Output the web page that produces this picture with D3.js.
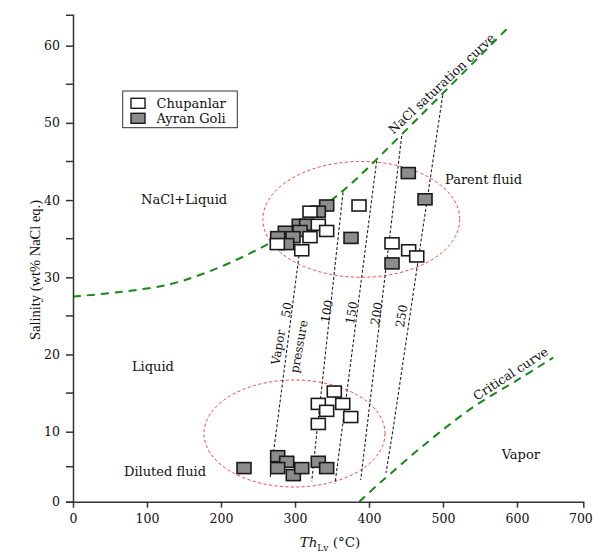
<!DOCTYPE html>
<html><head><meta charset="utf-8">
<script src="https://cdn.jsdelivr.net/npm/d3@7/dist/d3.min.js"></script>
<style>body{margin:0;background:#fff}svg{display:block}</style>
</head><body>
<svg id="chart" width="593" height="552"></svg>
<script>
// ---- data ----
const xTicks = [0,100,200,300,400,500,600,700];
const yTicks = [0,10,20,30,40,50,60];
const yMinorTicks = [5,15,25,35,45,55];

const seriesNames = ["Chupanlar","Ayran Goli"];
const chupanlarTh  = [320.3,386.5,331.5,342.8,320.3,276.1,309.1,431.1,453.6,464.5, 353.1,331.5,364.5,342.8,375.3,331.5];
const chupanlarSal = [38.5,39.3,36.8,36.0,35.2,34.3,33.5,34.4,33.5,32.7, 15.2,13.6,13.6,12.7,11.9,11.0];
const ayranTh  = [342.8,331.5,305.8,315.8,306.8,286.9,297.3,276.6,288.8,375.7,431.1,475.7,453.1, 276.6,288.8,276.6,231.1,297.7,309.1,331.5,342.8];
const ayranSal = [39.3,38.5,36.8,36.8,36.0,35.9,35.2,35.2,34.3,35.1,31.8,40.1,43.5, 6.5,5.7,4.8,4.8,3.8,4.8,5.7,4.8];

const saturationTh  = [0,63.5,131,185,239,296.9,358.5,378,470.3,589.6];
const saturationSal = [27.5,28.1,29.1,30.8,33.1,36.2,40.7,42.3,51.0,62.5];
const criticalTh  = [386.9,414.9,482.4,541,604.5,654.5];
const criticalSal = [0,2.7,8.8,13.2,16.9,19.6];

const isobarLabels = ["50","100","150","200","250"];
const isobarTopTh  = [305.4,364.9,410.4,444.2,499.6];
const isobarTopSal = [32.8,41.0,45.1,48.3,53.6];
const isobarMidTh  = [274.6,329.6,363.2,396.6,432.0];
const isobarBotTh  = [266.2,322.6,354.1,388.8,423.0];
const isobarBotSal = [3.3,2.9,2.6,3.1,4.1];
const isobarLabelTh  = [294.2,348.6,382.0,415.8,449.6];
const isobarLabelSal = [25.7,25.5,25.3,25.2,24.9];

const ellipseCx = [389.6,299.3];
const ellipseCy = [37.5,9.74];
const ellipseRx = [133,122.3];
const ellipseRy = [7.5,6.93];

const fieldLabels = ["NaCl+Liquid","Liquid","Diluted fluid","Vapor","Parent fluid"];
const fieldTh  = [92,79.7,68.9,579.3,502.7];
const fieldSal = [39.5,17.9,3.67,6.03,42.1];

// ---- scales ----
const x = d3.scaleLinear().domain([0,600,700]).range([73,517,583.3]);
const y = d3.scaleLinear().domain([0,10,64]).range([501.7,431.7,14.8]);

const svg = d3.select("#chart");
const serif = "'DejaVu Serif', serif";

// ellipses
ellipseCx.forEach((cx,i)=>{
  svg.append("ellipse")
    .attr("cx", x(cx)).attr("cy", y(ellipseCy[i]))
    .attr("rx", x(cx+ellipseRx[i]) - x(cx))
    .attr("ry", y(20) - y(20+ellipseRy[i]))
    .attr("fill","none").attr("stroke","#ff3b3b").attr("stroke-width",1)
    .attr("stroke-dasharray","3,2.5");
});

// isobars
isobarLabels.forEach((lab,i)=>{
  const pts = [[isobarTopTh[i],isobarTopSal[i]],[isobarMidTh[i],10],[isobarBotTh[i],isobarBotSal[i]]];
  svg.append("path")
    .attr("d", d3.line().x(d=>x(d[0])).y(d=>y(d[1]))(pts))
    .attr("fill","none").attr("stroke","#222").attr("stroke-width",1.1)
    .attr("stroke-dasharray","3,2");
  svg.append("text")
    .attr("transform",`translate(${x(isobarLabelTh[i])},${y(isobarLabelSal[i])}) rotate(-80)`)
    .attr("text-anchor","middle").attr("font-family",serif).attr("font-size",12)
    .attr("fill","#111").text(lab);
});
[["Vapor",282.8,20.84],["pressure",310.8,20.95]].forEach(d=>{
  svg.append("text")
    .attr("transform",`translate(${x(d[1])},${y(d[2])}) rotate(-80)`)
    .attr("text-anchor","middle").attr("font-family",serif).attr("font-size",12)
    .attr("fill","#111").text(d[0]);
});

// green curves
const gline = d3.line().x(d=>x(d[0])).y(d=>y(d[1])).curve(d3.curveCatmullRom);
svg.append("path")
  .attr("d", gline(saturationTh.map((t,i)=>[t,saturationSal[i]])))
  .attr("fill","none").attr("stroke","#138a13").attr("stroke-width",2)
  .attr("stroke-dasharray","8,6");
svg.append("path")
  .attr("d", gline(criticalTh.map((t,i)=>[t,criticalSal[i]])))
  .attr("fill","none").attr("stroke","#138a13").attr("stroke-width",2)
  .attr("stroke-dasharray","8,6");

// rotated curve labels
svg.append("text")
  .attr("transform",`translate(${x(502.3)},${y(54.66)}) rotate(-43)`)
  .attr("text-anchor","middle").attr("font-family",serif).attr("font-size",12.5)
  .attr("fill","#111").text("NaCl saturation curve");
svg.append("text")
  .attr("transform",`translate(${x(594.6)},${y(17.03)}) rotate(-33)`)
  .attr("text-anchor","middle").attr("font-family",serif).attr("font-size",12.5)
  .attr("fill","#111").text("Critical curve");

// field labels
fieldLabels.forEach((t,i)=>{
  svg.append("text").attr("x",x(fieldTh[i])).attr("y",y(fieldSal[i]))
    .attr("font-family",serif).attr("font-size",13).attr("fill","#111").text(t);
});

// axes
const xAxis = d3.axisBottom(x).tickValues(xTicks).tickSize(6).tickSizeOuter(0).tickPadding(6);
const gx = svg.append("g").attr("transform",`translate(0,${y(0)})`).call(xAxis);
const yAxis = d3.axisLeft(y).tickValues(yTicks).tickSize(7).tickSizeOuter(7).tickPadding(6);
const gy = svg.append("g").attr("transform",`translate(${x(0)},0)`).call(yAxis);
gy.selectAll(".minor").data(yMinorTicks).enter().append("line")
  .attr("class","minor").attr("x1",-7).attr("x2",0)
  .attr("y1",d=>y(d)).attr("y2",d=>y(d));
[gx,gy].forEach(g=>{
  g.selectAll("path,line").attr("stroke","#333").attr("stroke-width",1.5);
  g.selectAll("text").attr("font-family",serif).attr("font-size",12.5).attr("fill","#111");
});
// keep the last x label inside the frame
gx.selectAll(".tick text").filter(d=>d===700).attr("text-anchor","end").attr("dx",9);

// axis titles
const xt = svg.append("text").attr("x",330).attr("y",547).attr("text-anchor","middle")
  .attr("font-family",serif).attr("font-size",13.5).attr("fill","#111");
xt.append("tspan").attr("font-style","italic").text("Th");
xt.append("tspan").attr("font-size",9).attr("dy",4).text("Lv");
xt.append("tspan").attr("dy",-4).text(" (°C)");
svg.append("text").attr("transform","translate(40,270) rotate(-90)")
  .attr("text-anchor","middle").attr("font-family","'Liberation Serif', serif")
  .attr("font-size",14.5).attr("fill","#111").text("Salinity (wt% NaCl eq.)");

// data squares
const sqW = 14, sqH = 11;
const drawSquares = (th, sal, fill)=>{
  svg.append("g").selectAll("rect").data(th.map((t,i)=>[t,sal[i]])).enter().append("rect")
    .attr("x",d=>x(d[0])-sqW/2).attr("y",d=>y(d[1])-sqH/2)
    .attr("width",sqW).attr("height",sqH)
    .attr("fill",fill).attr("stroke","#1a1a1a").attr("stroke-width",1.6);
};
drawSquares(ayranTh, ayranSal, "#8c8c8c");
drawSquares(chupanlarTh, chupanlarSal, "#ffffff");

// legend
const lg = svg.append("g");
lg.append("rect").attr("x",122.7).attr("y",91).attr("width",114.6).attr("height",36.7)
  .attr("fill","#fff").attr("stroke","#333").attr("stroke-width",1);
[["#ffffff",103.3],["#8c8c8c",118.3]].forEach((d,i)=>{
  lg.append("rect").attr("x",131).attr("y",d[1]-5).attr("width",14).attr("height",10)
    .attr("fill",d[0]).attr("stroke","#1a1a1a").attr("stroke-width",1.4);
  lg.append("text").attr("x",156.5).attr("y",d[1]+4.5).attr("font-family",serif)
    .attr("font-size",13).attr("fill","#111").text(seriesNames[i]);
});
</script>
</body></html>
